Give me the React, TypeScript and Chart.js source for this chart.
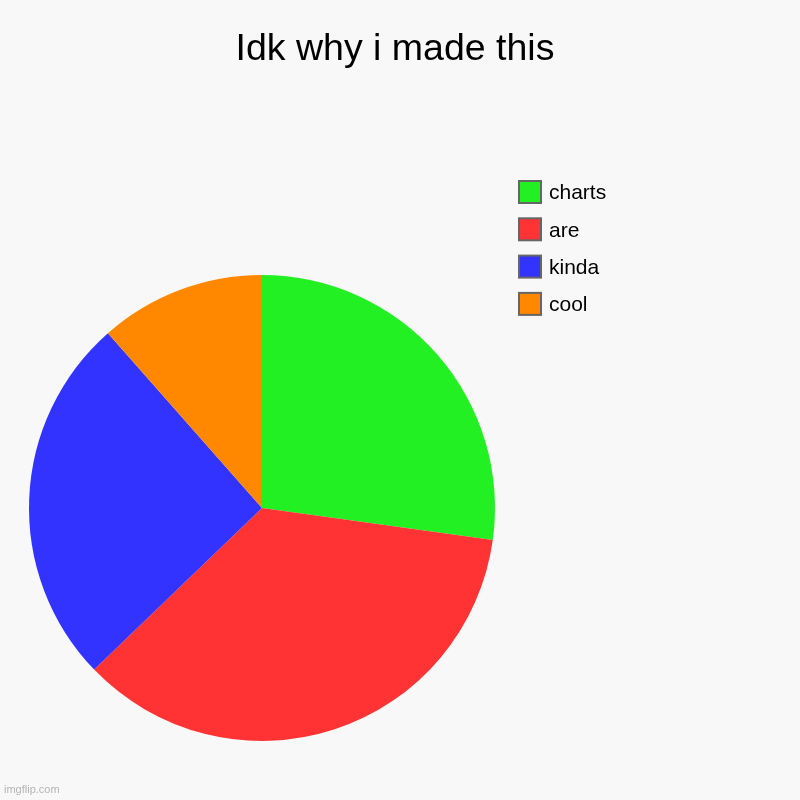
import React, { useEffect, useRef } from "react";
import { Chart, registerables } from "chart.js";

Chart.register(...registerables);

const categories = ["charts", "are", "kinda", "cool"];
const values = [27.2, 35.6, 25.7, 11.5];
const colors = ["#22f022", "#ff3333", "#3333ff", "#ff8800"];
const titleText = "Idk why i made this";
const watermark = "imgflip.com";

const overlayPlugin = {
  id: "overlay",
  beforeDraw(chart: any) {
    const ctx = chart.ctx;
    ctx.save();
    ctx.fillStyle = "#f8f8f8";
    ctx.fillRect(0, 0, chart.width, chart.height);
    ctx.restore();
  },
  afterDraw(chart: any) {
    const ctx = chart.ctx;
    ctx.save();
    // title
    ctx.fillStyle = "#000";
    ctx.font = '37.5px "Liberation Sans", Arial, sans-serif';
    ctx.textAlign = "center";
    ctx.textBaseline = "alphabetic";
    ctx.fillText(titleText, 395, 60);
    // legend
    const labels = chart.data.labels as string[];
    const bg = chart.data.datasets[0].backgroundColor as string[];
    ctx.font = '21px "Liberation Sans", Arial, sans-serif';
    ctx.textAlign = "left";
    labels.forEach((lab, i) => {
      const top = 180 + i * 37.3;
      ctx.fillStyle = "#666666";
      ctx.fillRect(518, top, 24, 24);
      ctx.fillStyle = bg[i];
      ctx.fillRect(520, top + 2, 20, 20);
      ctx.fillStyle = "#000";
      ctx.fillText(lab, 549, top + 19.3);
    });
    // watermark
    ctx.fillStyle = "#b4b4b4";
    ctx.font = '11px "Liberation Sans", Arial, sans-serif';
    ctx.fillText(watermark, 4, 793);
    ctx.restore();
  },
};

export default function App() {
  const ref = useRef<HTMLCanvasElement>(null);
  useEffect(() => {
    if (!ref.current) return;
    const chart = new Chart(ref.current, {
      type: "pie",
      data: {
        labels: categories,
        datasets: [
          {
            data: values,
            backgroundColor: colors,
            borderWidth: 0,
          },
        ],
      },
      options: {
        responsive: false,
        animation: false,
        layout: { padding: { left: 29, right: 305, top: 275, bottom: 59 } },
        plugins: {
          legend: { display: false },
          title: { display: false },
          tooltip: { enabled: false },
        },
      },
      plugins: [overlayPlugin],
    });
    return () => chart.destroy();
  }, []);
  return (
    <div style={{ position: "fixed", left: 0, top: 0, width: 800, height: 800 }}>
      <canvas ref={ref} width={800} height={800} style={{ width: 800, height: 800 }} />
    </div>
  );
}
